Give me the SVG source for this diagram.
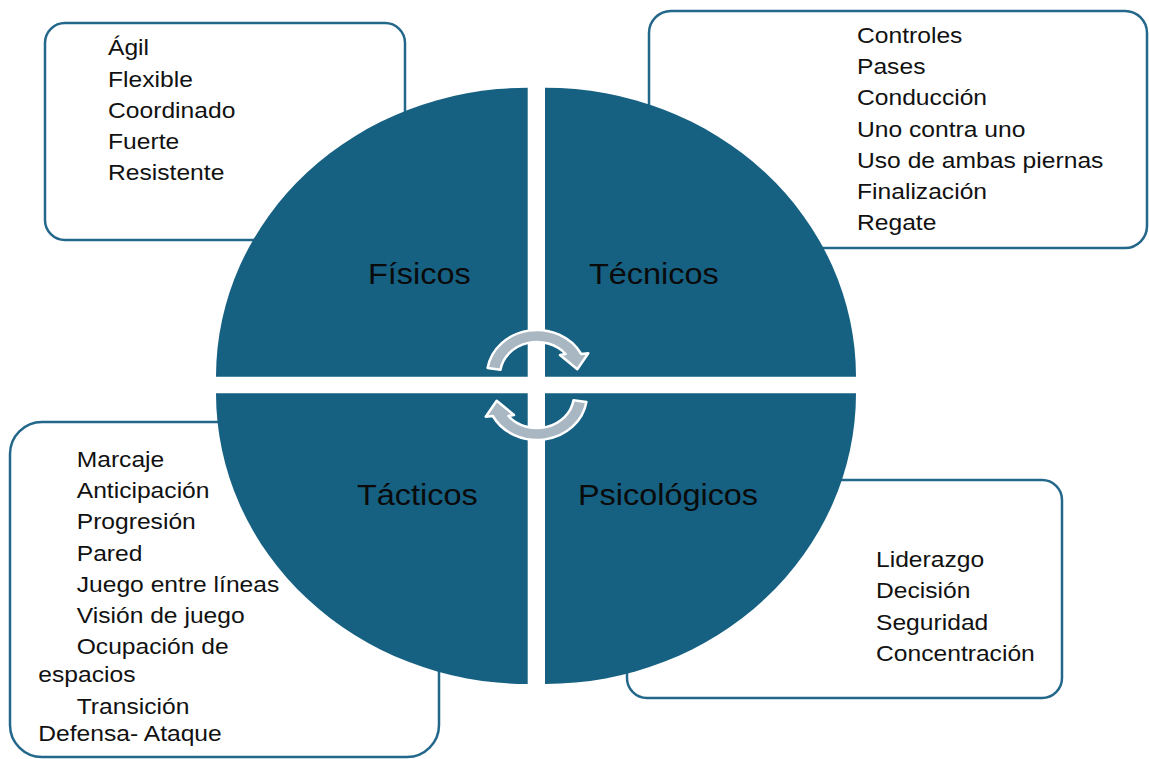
<svg xmlns="http://www.w3.org/2000/svg" width="1149" height="759" viewBox="0 0 1149 759">
<style>
.box{fill:#ffffff;stroke:#23678a;stroke-width:2.5}
.quad{fill:#166082}
.item{font-family:"Liberation Sans",Arial,sans-serif;font-size:22px;fill:#111111}
.label{font-family:"Liberation Sans",Arial,sans-serif;font-size:30px;fill:#0a0a0a}
.arrow{fill:#a9b7c3;stroke:#ffffff;stroke-width:2.5;stroke-linejoin:round}
</style>
<defs>
<path id="cyc" d="M -49.4 -7 A 50 45 0 0 1 44.2 -21 L 51.3 -21.7 L 40.3 -5.7 L 23 -20 L 28.6 -21 A 37 33 0 0 0 -36.5 -5.2 Z"/>
</defs>
<rect width="1149" height="759" fill="#ffffff"/>
<g id="box-fisicos">
<rect class="box" x="45" y="23" width="360" height="217" rx="20"/>
<text class="item" transform="translate(108,0) scale(1.12,1)"><tspan x="0" y="55.5">Ágil</tspan><tspan x="0" y="86.7">Flexible</tspan><tspan x="0" y="117.9">Coordinado</tspan><tspan x="0" y="149.1">Fuerte</tspan><tspan x="0" y="180.3">Resistente</tspan></text>
</g>
<g id="box-tecnicos">
<rect class="box" x="649" y="11" width="498" height="237" rx="22"/>
<text class="item" transform="translate(857,0) scale(1.12,1)"><tspan x="0" y="43">Controles</tspan><tspan x="0" y="74.2">Pases</tspan><tspan x="0" y="105.4">Conducción</tspan><tspan x="0" y="136.6">Uno contra uno</tspan><tspan x="0" y="167.8">Uso de ambas piernas</tspan><tspan x="0" y="199">Finalización</tspan><tspan x="0" y="230.2">Regate</tspan></text>
</g>
<g id="box-tacticos">
<rect class="box" x="10" y="422" width="429" height="335" rx="32"/>
<text class="item" transform="translate(38.3,0) scale(1.12,1)"><tspan x="34.3" y="467">Marcaje</tspan><tspan x="34.3" y="498.2">Anticipación</tspan><tspan x="34.3" y="529.4">Progresión</tspan><tspan x="34.3" y="560.6">Pared</tspan><tspan x="34.3" y="591.8">Juego entre líneas</tspan><tspan x="34.3" y="623">Visión de juego</tspan><tspan x="34.3" y="654.5">Ocupación de</tspan><tspan x="0" y="682.5">espacios</tspan><tspan x="34.3" y="713.8">Transición</tspan><tspan x="0" y="741.5">Defensa- Ataque</tspan></text>
</g>
<g id="box-psicologicos">
<rect class="box" x="627" y="480" width="435" height="218" rx="20"/>
<text class="item" transform="translate(876,0) scale(1.12,1)"><tspan x="0" y="567.3">Liderazgo</tspan><tspan x="0" y="598.5">Decisión</tspan><tspan x="0" y="629.7">Seguridad</tspan><tspan x="0" y="660.9">Concentración</tspan></text>
</g>
<g id="quad-fisicos">
<path class="quad" d="M 527.7 376.7 L 216 376.7 A 311.7 289 0 0 1 527.7 87.7 Z"/>
<text class="label" transform="translate(368,284) scale(1.08,1)">Físicos</text>
</g>
<g id="quad-tecnicos">
<path class="quad" d="M 545 376.7 L 545 87.7 A 311 289 0 0 1 856 376.7 Z"/>
<text class="label" transform="translate(589,284) scale(1.08,1)">Técnicos</text>
</g>
<g id="quad-tacticos">
<path class="quad" d="M 527.7 393.3 L 527.7 684 A 311.7 290.7 0 0 1 216 393.3 Z"/>
<text class="label" transform="translate(357,505) scale(1.08,1)">Tácticos</text>
</g>
<g id="quad-psicologicos">
<path class="quad" d="M 545 393.3 L 856 393.3 A 311 290.7 0 0 1 545 684 Z"/>
<text class="label" transform="translate(578,505) scale(1.08,1)">Psicológicos</text>
</g>
<g id="connectors">
<use href="#cyc" class="arrow" transform="translate(537,375)"/>
<use href="#cyc" class="arrow" transform="translate(537,395) rotate(180)"/>
</g>
</svg>
